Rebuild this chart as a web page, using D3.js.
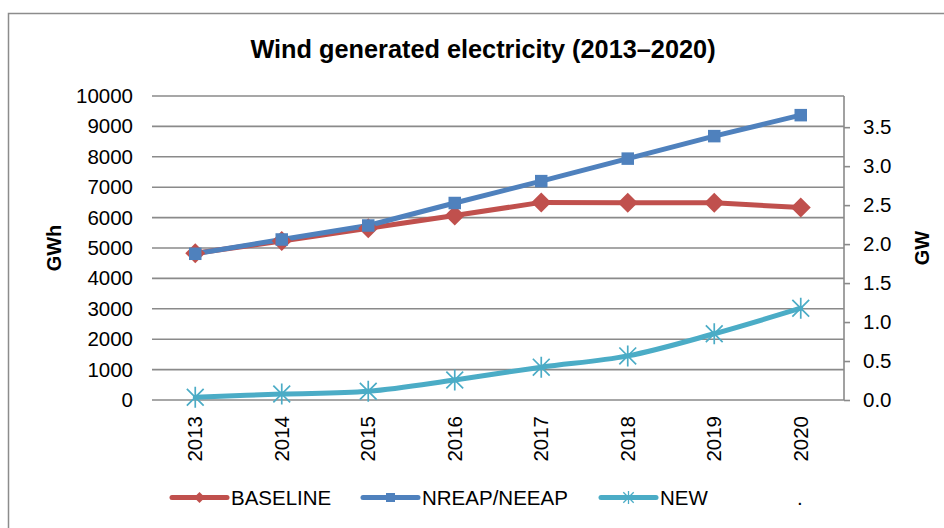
<!DOCTYPE html>
<html>
<head>
<meta charset="utf-8">
<script src="https://cdn.jsdelivr.net/npm/d3@7"></script>
<style>
  body { margin: 0; background: #fff; }
  svg { display: block; font-family: "Liberation Sans", Arial, sans-serif; }
</style>
</head>
<body>
<svg id="chart" width="944" height="528"></svg>
<script>
const years = ["2013","2014","2015","2016","2017","2018","2019","2020"];
const baseline = [4830, 5230, 5650, 6070, 6500, 6490, 6490, 6330];
const nreap = [4810, 5280, 5740, 6480, 7200, 7940, 8680, 9370];
const newSeries = [90, 195, 290, 660, 1080, 1450, 2180, 3020];
const leftTicks = [0,1000,2000,3000,4000,5000,6000,7000,8000,9000,10000];
const rightTicks = [0,0.5,1.0,1.5,2.0,2.5,3.0,3.5];
const seriesNames = ["BASELINE", "NREAP/NEEAP", "NEW", "."];
const title = "Wind generated electricity (2013\u20132020)";

(function () {
const svg = d3.select("#chart");
const pL = 152, pR = 844, pT = 96, pB = 400;
const gridColor = "#8a8a8a";

// outer border
svg.append("rect").attr("x", 8.5).attr("y", 13.5).attr("width", 1000).attr("height", 600)
  .attr("fill", "none").attr("stroke", "#8c8c8c").attr("stroke-width", 1.5);

const x = d3.scaleBand().domain(years).range([pL, pR]);
const xc = d => x(d) + x.bandwidth() / 2;
const y = d3.scaleLinear().domain([0, 10000]).range([pB, pT]);
const y2 = d3.scaleLinear().domain([0, 3.9]).range([pB, pT]);

// gridlines
svg.append("g").selectAll("line").data(leftTicks).join("line")
  .attr("x1", pL).attr("x2", pR)
  .attr("y1", d => y(d)).attr("y2", d => y(d))
  .attr("stroke", gridColor).attr("stroke-width", 1.6);

// left axis labels
const yAxis = d3.axisLeft(y).tickValues(leftTicks).tickSize(0).tickPadding(19).tickFormat(d3.format("d"));
const gy = svg.append("g").attr("transform", `translate(${pL},0)`).call(yAxis);
gy.select(".domain").remove();
gy.selectAll("text").attr("font-size", 20.5).attr("fill", "#000").attr("font-family", "Liberation Sans, Arial, sans-serif");

// right axis
const y2Axis = d3.axisRight(y2).tickValues(rightTicks).tickSize(6).tickPadding(13).tickFormat(d3.format(".1f"));
const gy2 = svg.append("g").attr("transform", `translate(${pR},0)`).call(y2Axis);
gy2.select(".domain").attr("stroke", gridColor).attr("stroke-width", 1.6)
  .attr("d", `M0,${pT}V${pB}`);
gy2.selectAll(".tick line").attr("stroke", gridColor).attr("stroke-width", 1.6);
gy2.selectAll("text").attr("font-size", 20.5).attr("fill", "#000").attr("font-family", "Liberation Sans, Arial, sans-serif");

// x axis labels rotated
const xAxis = d3.axisBottom(x).tickSize(0).tickPadding(0);
const gx = svg.append("g").attr("transform", `translate(0,${pB})`).call(xAxis);
gx.select(".domain").remove();
gx.selectAll("text")
  .attr("font-size", 20.5).attr("fill", "#000").attr("font-family", "Liberation Sans, Arial, sans-serif")
  .attr("transform", "rotate(-90)")
  .attr("text-anchor", "end")
  .attr("x", -16).attr("y", 0).attr("dy", "0.35em");

// title
svg.append("text").attr("x", 483).attr("y", 58).attr("text-anchor", "middle")
  .attr("font-size", 25.3).attr("font-weight", "bold").text(title);

// axis titles
svg.append("text").attr("transform", `translate(61,248) rotate(-90)`).attr("text-anchor", "middle")
  .attr("font-size", 20).attr("font-weight", "bold").text("GWh");
svg.append("text").attr("transform", `translate(929,248) rotate(-90)`).attr("text-anchor", "middle")
  .attr("font-size", 20).attr("font-weight", "bold").text("GW");

const colors = ["#C0504D", "#4F81BD", "#4BACC6"];
const data = [baseline, nreap, newSeries];

// lines
const straight = d3.line().x((d, i) => xc(years[i])).y(d => y(d));
const smooth = d3.line().x((d, i) => xc(years[i])).y(d => y(d)).curve(d3.curveCatmullRom.alpha(0));
data.forEach((s, k) => {
  svg.append("path").datum(s).attr("d", k === 2 ? smooth : straight)
    .attr("fill", "none").attr("stroke", colors[k]).attr("stroke-width", 5)
    .attr("stroke-linejoin", "round").attr("stroke-linecap", "round");
});

function diamond(g, cx, cy, r, color) {
  g.append("path").attr("d", `M${cx},${cy-r}L${cx+r},${cy}L${cx},${cy+r}L${cx-r},${cy}Z`).attr("fill", color);
}
function square(g, cx, cy, s, color) {
  g.append("rect").attr("x", cx - s/2).attr("y", cy - s/2).attr("width", s).attr("height", s).attr("fill", color);
}
function star(g, cx, cy, r, color, w) {
  const a = r * 0.8;
  g.append("path").attr("d",
    `M${cx-a},${cy-a}L${cx+a},${cy+a}M${cx-a},${cy+a}L${cx+a},${cy-a}M${cx},${cy-r}L${cx},${cy+r}`)
    .attr("stroke", color).attr("stroke-width", w).attr("fill", "none");
}

const mg = svg.append("g");
baseline.forEach((v, i) => diamond(mg, xc(years[i]), y(v), 10, colors[0]));
nreap.forEach((v, i) => square(mg, xc(years[i]), y(v), 12.5, colors[1]));
newSeries.forEach((v, i) => star(mg, xc(years[i]), y(v), 10.5, colors[2], 1.7));

// legend
const ly = 497.5;
const legendItems = [
  {x1: 172, x2: 227, tx: 231, k: 0},
  {x1: 363, x2: 418, tx: 422, k: 1},
  {x1: 601, x2: 656, tx: 660, k: 2}
];
const lg = svg.append("g");
legendItems.forEach(it => {
  lg.append("line").attr("x1", it.x1).attr("x2", it.x2).attr("y1", ly).attr("y2", ly)
    .attr("stroke", colors[it.k]).attr("stroke-width", 5).attr("stroke-linecap", "round");
  const cx = (it.x1 + it.x2) / 2;
  if (it.k === 0) diamond(lg, cx, ly, 5.5, colors[0]);
  if (it.k === 1) square(lg, cx, ly, 9, colors[1]);
  if (it.k === 2) star(lg, cx, ly, 6.5, colors[2], 1.3);
  lg.append("text").attr("x", it.tx).attr("y", 505).attr("font-size", 20.5).text(seriesNames[it.k]);
});
lg.append("text").attr("x", 797).attr("y", 505).attr("font-size", 20.5).text(seriesNames[3]);
})();
</script>
</body>
</html>
